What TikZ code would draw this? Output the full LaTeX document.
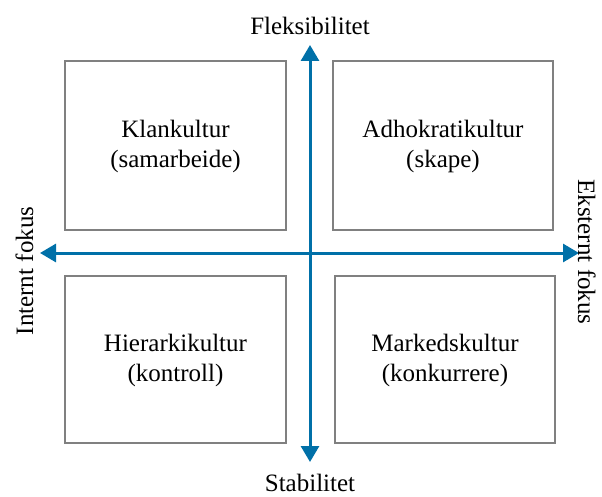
\documentclass[tikz,border=0pt]{standalone}
\usepackage{fontspec}
\setmainfont{Liberation Serif}
\usetikzlibrary{arrows.meta}
\definecolor{axisblue}{RGB}{0,112,168}
\definecolor{boxgray}{RGB}{128,128,128}
\begin{document}
\begin{tikzpicture}[x=1pt,y=-1pt,
  quadbox/.style={draw=boxgray,line width=2.8pt},
  quadtext/.style={align=center,font=\fontsize{25}{30}\selectfont},
  axislabel/.style={font=\fontsize{25}{30}\selectfont,inner sep=0pt,anchor=base},
  axis/.style={draw=axisblue,line width=3pt,{Triangle[length=16pt,width=18pt]}-{Triangle[length=16pt,width=18pt]}}]
\useasboundingbox (0,0) rectangle (602,497);
\draw[quadbox] (65,61) rectangle (286,230);
\draw[quadbox] (333,61) rectangle (553,230);
\draw[quadbox] (65,276) rectangle (286,443);
\draw[quadbox] (335,276) rectangle (555,443);
\node[quadtext] (klan) at (175.5,146) {Klankultur\\(samarbeide)};
\node[quadtext] (adho) at (443,146) {Adhokratikultur\\(skape)};
\node[quadtext] (hier) at (175.5,360) {Hierarkikultur\\(kontroll)};
\node[quadtext] (mark) at (445,360) {Markedskultur\\(konkurrere)};
\coordinate (top) at (310,45);
\coordinate (bot) at (310,462);
\coordinate (left) at (40,253);
\coordinate (right) at (579,253);
\draw[axis] (bot) -- (top);
\draw[axis] (left) -- (right);
\node[axislabel] (flek) at (310,35) {Fleksibilitet};
\node[axislabel] (stab) at (310,491) {Stabilitet};
\node[axislabel,rotate=90] (intern) at (33,271) {Internt fokus};
\node[axislabel,rotate=-90] (ekstern) at (578,252) {Eksternt fokus};
\end{tikzpicture}
\end{document}
